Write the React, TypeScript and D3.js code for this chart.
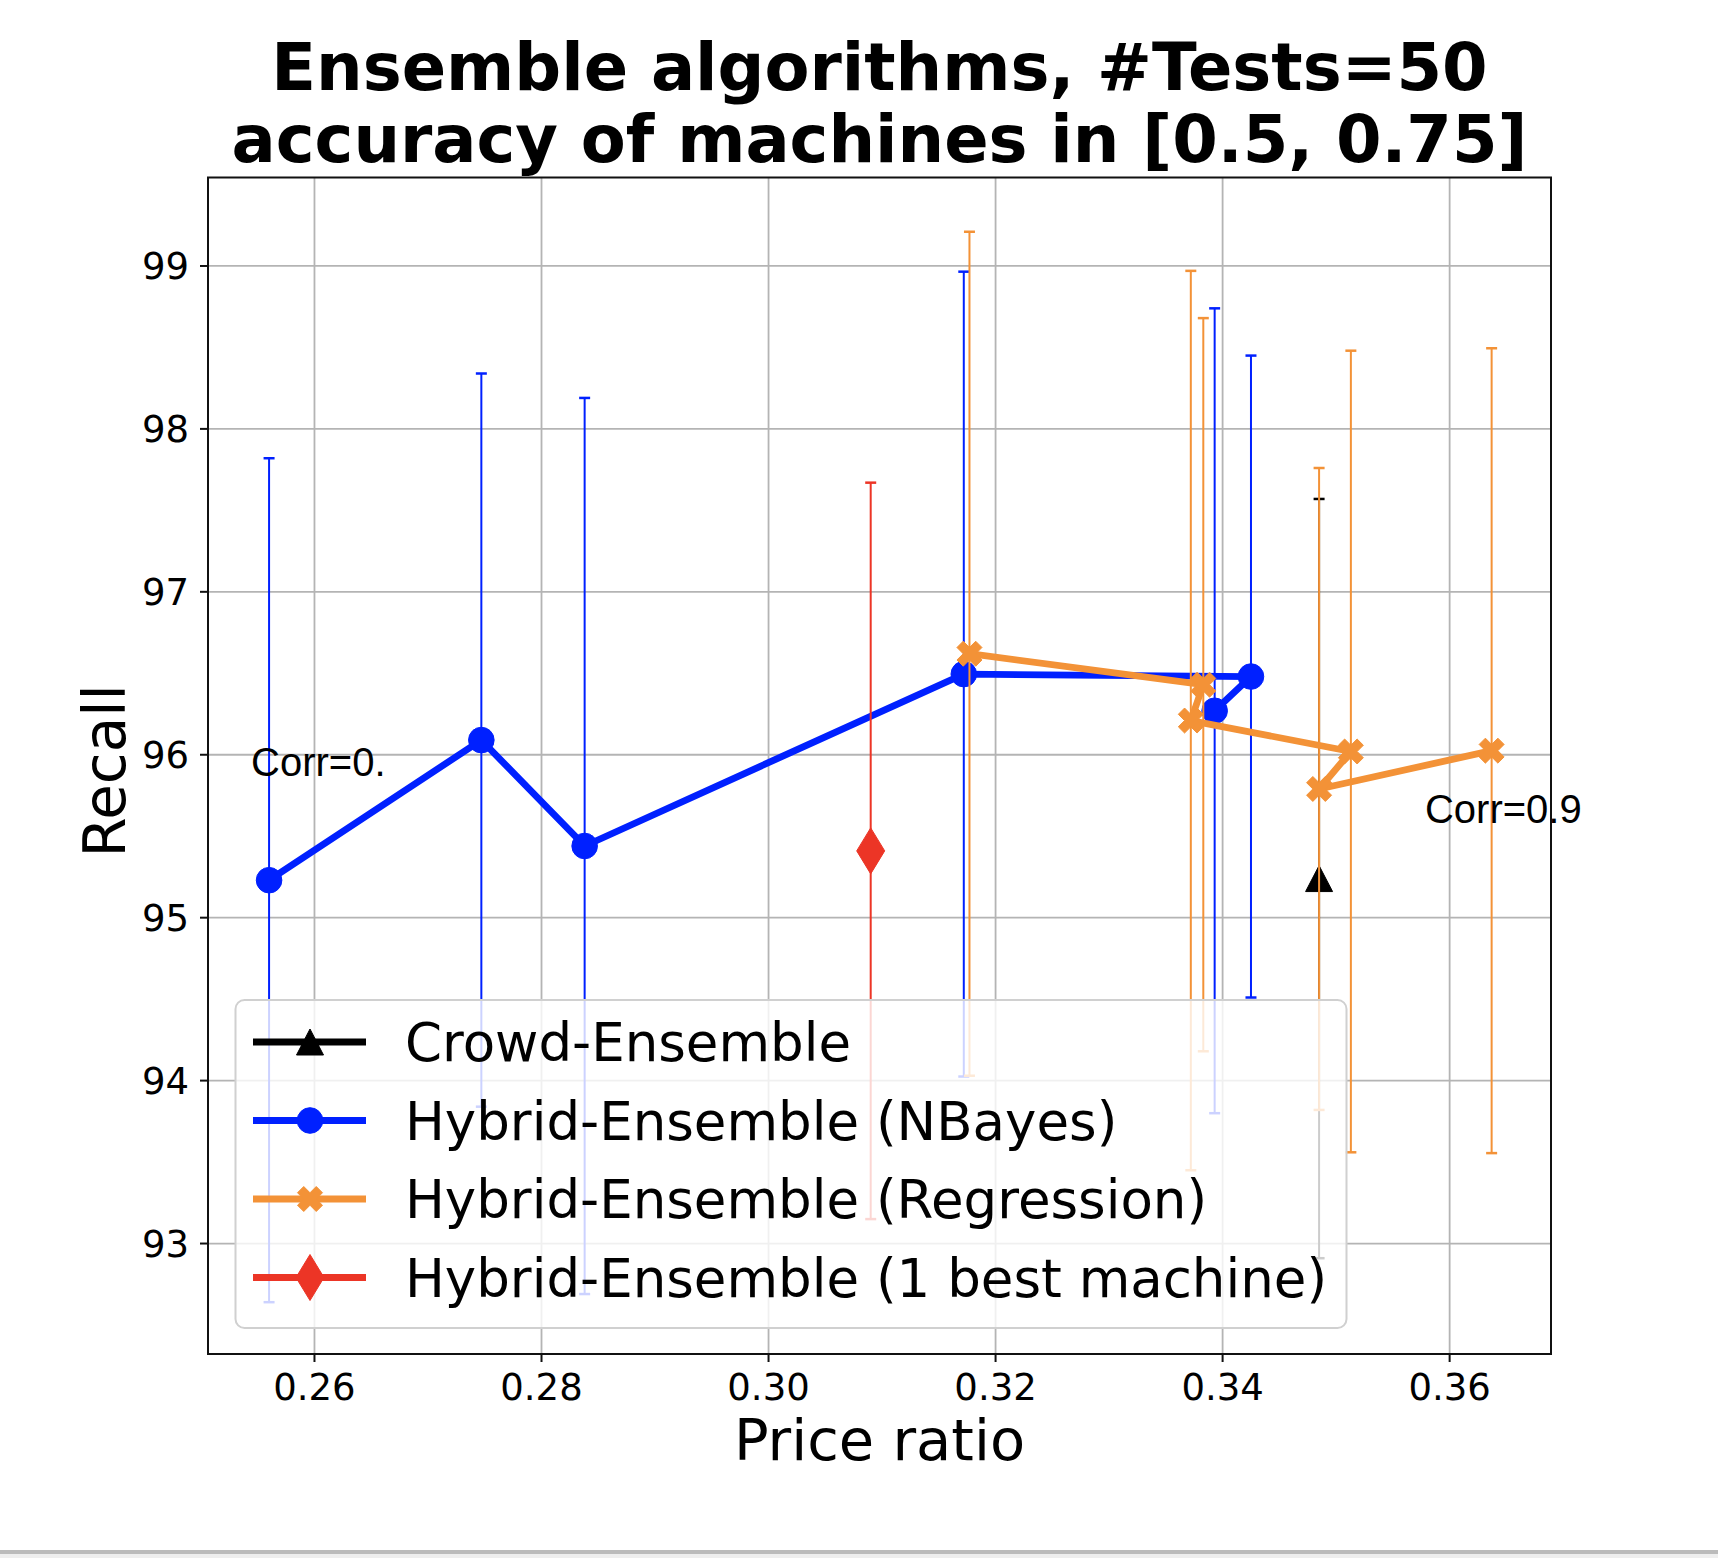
import React from "react";
import * as d3 from "d3";

const titleLines = ["Ensemble algorithms, #Tests=50", "accuracy of machines in [0.5, 0.75]"];
const xTicks = [0.26, 0.28, 0.3, 0.32, 0.34, 0.36];
const yTicks = [93, 94, 95, 96, 97, 98, 99];
const xLabel = "Price ratio";
const yLabel = "Recall";

const seriesNames = [
  "Crowd-Ensemble",
  "Hybrid-Ensemble (NBayes)",
  "Hybrid-Ensemble (Regression)",
  "Hybrid-Ensemble (1 best machine)",
];
const seriesColors = ["#000000", "#0020ff", "#f39237", "#ec3526"];
const seriesMarkers = ["triangle", "circle", "x", "diamond"];

const crowdX = [0.3485];
const crowdY = [95.24];
const crowdErr = [2.33];

const nbX = [0.256, 0.2747, 0.2838, 0.3172, 0.3425, 0.3393];
const nbY = [95.23, 96.09, 95.44, 96.495, 96.48, 96.27];
const nbErr = [2.59, 2.25, 2.75, 2.47, 1.97, 2.47];

const regX = [0.3177, 0.3383, 0.3372, 0.3513, 0.3485, 0.3637];
const regY = [96.62, 96.43, 96.21, 96.02, 95.79, 96.025];
const regErr = [2.59, 2.25, 2.76, 2.46, 1.97, 2.47];

const bestX = [0.309];
const bestY = [95.41];
const bestErr = [2.26];

const annotations = [
  { text: "Corr=0.", x: 0.25441, y: 95.869 },
  { text: "Corr=0.9", x: 0.35783, y: 95.581 },
];

const W = 1718;
const H = 1558;
const plot = { left: 208, right: 1551, top: 177.5, bottom: 1354 };

function markerPath(kind: string): string {
  if (kind === "circle") {
    return d3.symbol(d3.symbolCircle, Math.PI * 12.8 * 12.8)() as string;
  }
  if (kind === "triangle") {
    const w = 27, h = 26;
    return `M0,${-h / 2}L${w / 2},${h / 2}L${-w / 2},${h / 2}Z`;
  }
  if (kind === "diamond") {
    const w = 28, h = 46;
    return `M0,${-h / 2}L${w / 2},0L0,${h / 2}L${-w / 2},0Z`;
  }
  // filled X (rotated plus)
  const s = 26.5 / 6;
  const pts = [
    [-1, -3], [1, -3], [1, -1], [3, -1], [3, 1], [1, 1],
    [1, 3], [-1, 3], [-1, 1], [-3, 1], [-3, -1], [-1, -1],
  ];
  const c = Math.SQRT1_2;
  const rot = pts.map(([px, py]) => [(px - py) * c * s, (px + py) * c * s]);
  return "M" + rot.map((p) => p.join(",")).join("L") + "Z";
}

export default function App() {
  const x = d3.scaleLinear().domain([0.25062, 0.36893]).range([plot.left, plot.right]);
  const y = d3.scaleLinear().domain([92.322, 99.543]).range([plot.bottom, plot.top]);

  const series = [
    { xs: crowdX, ys: crowdY, es: crowdErr },
    { xs: nbX, ys: nbY, es: nbErr },
    { xs: regX, ys: regY, es: regErr },
    { xs: bestX, ys: bestY, es: bestErr },
  ];

  const line = d3.line<[number, number]>().x((d) => x(d[0])).y((d) => y(d[1]));
  const fmtX = d3.format(".2f");

  const legend = { x: 235.5, y: 1000, w: 1111, h: 328 };
  const rowY = [1042, 1120.5, 1199, 1277.5];

  return (
    <svg
      width={W}
      height={H}
      style={{ position: "absolute", left: 0, top: 0, background: "#fff" }}
      fontFamily="'DejaVu Sans', sans-serif"
    >
      <rect x={0} y={0} width={W} height={H} fill="#ffffff" />
      {/* title */}
      {titleLines.map((t, i) => (
        <text
          key={t}
          x={(plot.left + plot.right) / 2}
          y={90 + i * 72}
          textAnchor="middle"
          fontWeight="bold"
          fontSize={65.5}
        >
          {t}
        </text>
      ))}
      {/* grid */}
      <g stroke="#b4b4b4" strokeWidth={1.8}>
        {xTicks.map((t) => (
          <line key={"gx" + t} x1={x(t)} x2={x(t)} y1={plot.top} y2={plot.bottom} />
        ))}
        {yTicks.map((t) => (
          <line key={"gy" + t} x1={plot.left} x2={plot.right} y1={y(t)} y2={y(t)} />
        ))}
      </g>
      {/* series */}
      {series.map((s, si) => {
        const col = seriesColors[si];
        const pts: [number, number][] = s.xs.map((v, i) => [v, s.ys[i]]);
        return (
          <g key={"s" + si}>
            {pts.map((p, i) => (
              <g key={"e" + i} stroke={col} strokeWidth={2}>
                <line x1={x(p[0])} x2={x(p[0])} y1={y(p[1] - s.es[i])} y2={y(p[1] + s.es[i])} />
                <line x1={x(p[0]) - 5.5} x2={x(p[0]) + 5.5} y1={y(p[1] + s.es[i])} y2={y(p[1] + s.es[i])} strokeWidth={2.5} />
                <line x1={x(p[0]) - 5.5} x2={x(p[0]) + 5.5} y1={y(p[1] - s.es[i])} y2={y(p[1] - s.es[i])} strokeWidth={2.5} />
              </g>
            ))}
            {pts.length > 1 && (
              <path d={line(pts) as string} fill="none" stroke={col} strokeWidth={6.8} strokeLinejoin="round" />
            )}
            {pts.map((p, i) => (
              <path
                key={"m" + i}
                d={markerPath(seriesMarkers[si])}
                transform={`translate(${x(p[0])},${y(p[1])})`}
                fill={col}
                stroke={col}
                strokeWidth={1}
              />
            ))}
          </g>
        );
      })}
      {/* annotations */}
      {annotations.map((a) => (
        <text
          key={a.text}
          x={x(a.x)}
          y={y(a.y)}
          fontFamily="'Liberation Sans', Arial, sans-serif"
          fontSize={40}
          fill="#000"
        >
          {a.text}
        </text>
      ))}
      {/* legend */}
      <rect
        x={legend.x}
        y={legend.y}
        width={legend.w}
        height={legend.h}
        rx={9}
        fill="#ffffff"
        fillOpacity={0.8}
        stroke="#d0d0d0"
        strokeWidth={2}
      />
      {seriesNames.map((n, i) => (
        <g key={n}>
          <line x1={253} x2={366} y1={rowY[i]} y2={rowY[i]} stroke={seriesColors[i]} strokeWidth={6.8} />
          <path
            d={markerPath(seriesMarkers[i])}
            transform={`translate(310,${rowY[i]})`}
            fill={seriesColors[i]}
            stroke={seriesColors[i]}
            strokeWidth={1}
          />
          <text x={405} y={rowY[i]} dy="0.36em" fontSize={53} fill="#000">
            {n}
          </text>
        </g>
      ))}
      {/* spines */}
      <rect
        x={plot.left}
        y={plot.top}
        width={plot.right - plot.left}
        height={plot.bottom - plot.top}
        fill="none"
        stroke="#111"
        strokeWidth={2}
      />
      {/* ticks */}
      <g stroke="#111" strokeWidth={2}>
        {xTicks.map((t) => (
          <line key={"tx" + t} x1={x(t)} x2={x(t)} y1={plot.bottom} y2={plot.bottom + 8} />
        ))}
        {yTicks.map((t) => (
          <line key={"ty" + t} x1={plot.left - 8} x2={plot.left} y1={y(t)} y2={y(t)} />
        ))}
      </g>
      {xTicks.map((t) => (
        <text key={"lx" + t} x={x(t)} y={1400} textAnchor="middle" fontSize={37}>
          {fmtX(t)}
        </text>
      ))}
      {yTicks.map((t) => (
        <text key={"ly" + t} x={189} y={y(t)} dy="0.36em" textAnchor="end" fontSize={37}>
          {t}
        </text>
      ))}
      <text x={(plot.left + plot.right) / 2} y={1460} textAnchor="middle" fontSize={57.5}>
        {xLabel}
      </text>
      <text
        transform={`translate(125,771) rotate(-90)`}
        textAnchor="middle"
        fontSize={58}
      >
        {yLabel}
      </text>
      {/* bottom window strip */}
      <rect x={0} y={1550} width={W} height={4} fill="#bbbbbb" />
      <rect x={0} y={1554} width={W} height={4} fill="#eeeeee" />
    </svg>
  );
}
